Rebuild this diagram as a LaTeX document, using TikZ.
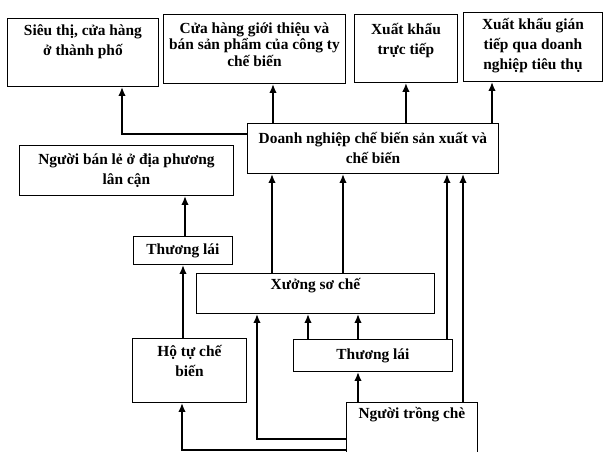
\documentclass[tikz,border=0pt]{standalone}
\usepackage{fontspec}
\setmainfont{Liberation Serif}
\usepackage{tikz}
\usetikzlibrary{positioning,arrows.meta}

\tikzset{
  box/.style={draw, line width=0.9pt, inner sep=0pt, anchor=north west},
  txt/.style={align=center, inner sep=0pt, font=\bfseries\fontsize{15.4}{20}\selectfont},
  arr/.style={line width=1.8pt, -{Latex[length=9pt,width=7.5pt]}}
}

\begin{document}
\begin{tikzpicture}[x=1pt, y=-1pt]
    \useasboundingbox (0,0) rectangle (604,451);

    % Top row
    \node[box, minimum width=151, minimum height=68] (sieuthi) at (7,18) {};
    \node[txt, below=6pt of sieuthi.north] (sieuthi-t) {Siêu thị, cửa hàng\\ở thành phố};
    \node[box, minimum width=182, minimum height=69] (cuahang) at (163,14) {};
    \node[txt, font=\bfseries\fontsize{15.4}{16.5}\selectfont, below=8pt of cuahang.north] (cuahang-t) {Cửa hàng giới thiệu và\\bán sản phẩm của công ty\\chế biến};
    \node[box, minimum width=103, minimum height=68] (xktt) at (354,14) {};
    \node[txt, below=9pt of xktt.north] (xktt-t) {Xuất khẩu\\trực tiếp};
    \node[box, minimum width=139, minimum height=69] (xkgt) at (463,12) {};
    \node[txt, below=6pt of xkgt.north] (xkgt-t) {Xuất khẩu gián\\tiếp qua doanh\\nghiệp tiêu thụ};

    % Middle
    \node[box, minimum width=251, minimum height=50] (dn) at (247,123) {};
    \node[txt] (dn-t) at (dn.center) {Doanh nghiệp chế biến sản xuất và\\chế biến};
    \node[box, minimum width=214, minimum height=50] (nguoiban) at (19,145) {};
    \node[txt] (nguoiban-t) at (nguoiban.center) {Người bán lẻ ở địa phương\\lân cận};
    \node[box, minimum width=99, minimum height=28] (thuonglai1) at (133,236) {};
    \node[txt] (thuonglai1-t) at (thuonglai1.center) {Thương lái};
    \node[box, minimum width=238, minimum height=40] (xuong) at (196,273) {};
    \node[txt, below=5pt of xuong.north] (xuong-t) {Xưởng sơ chế};

    % Bottom
    \node[box, minimum width=114, minimum height=64] (hotu) at (132,338) {};
    \node[txt, below=7pt of hotu.north] (hotu-t) {Hộ tự chế\\biến};
    \node[box, minimum width=159, minimum height=32] (thuonglai2) at (293,339) {};
    \node[txt] (thuonglai2-t) at (thuonglai2.center) {Thương lái};
    \node[box, minimum width=131, minimum height=54] (nguoitrong) at (346,402) {};
    \node[txt, below=5pt of nguoitrong.north] (nguoitrong-t) {Người trồng chè};

    % Flows to the markets
    \draw[arr] (dn.west |- 0,134) -| (sieuthi.south -| 122,0);
    \draw[arr] (dn.north -| 273,0) -- (cuahang.south -| 273,0);
    \draw[arr] (dn.north -| xktt.south) -- (xktt.south);
    \draw[arr] (dn.north -| 492,0) -- (xkgt.south -| 492,0);
    \draw[arr] (thuonglai1.north -| 185,0) -- (nguoiban.south -| 185,0);
    \draw[arr] (hotu.north -| 183,0) -- (thuonglai1.south -| 183,0);

    % Flows to the processors
    \draw[arr] (xuong.north -| 272,0) -- (dn.south -| 272,0);
    \draw[arr] (xuong.north -| 343,0) -- (dn.south -| 343,0);
    \draw[arr] (thuonglai2.north -| 447,0) -- (dn.south -| 447,0);
    \draw[arr] (nguoitrong.north -| 463,0) -- (dn.south -| 463,0);
    \draw[arr] (thuonglai2.north -| 308,0) -- (xuong.south -| 308,0);
    \draw[arr] (thuonglai2.north -| 358,0) -- (xuong.south -| 358,0);
    \draw[arr] (nguoitrong.north -| 358,0) -- (thuonglai2.south -| 358,0);
    \draw[arr] (nguoitrong.west |- 0,439) -| (xuong.south -| 257,0);
    \draw[arr] (nguoitrong.west |- 0,450) -| (hotu.south -| 182,0);
\end{tikzpicture}
\end{document}
